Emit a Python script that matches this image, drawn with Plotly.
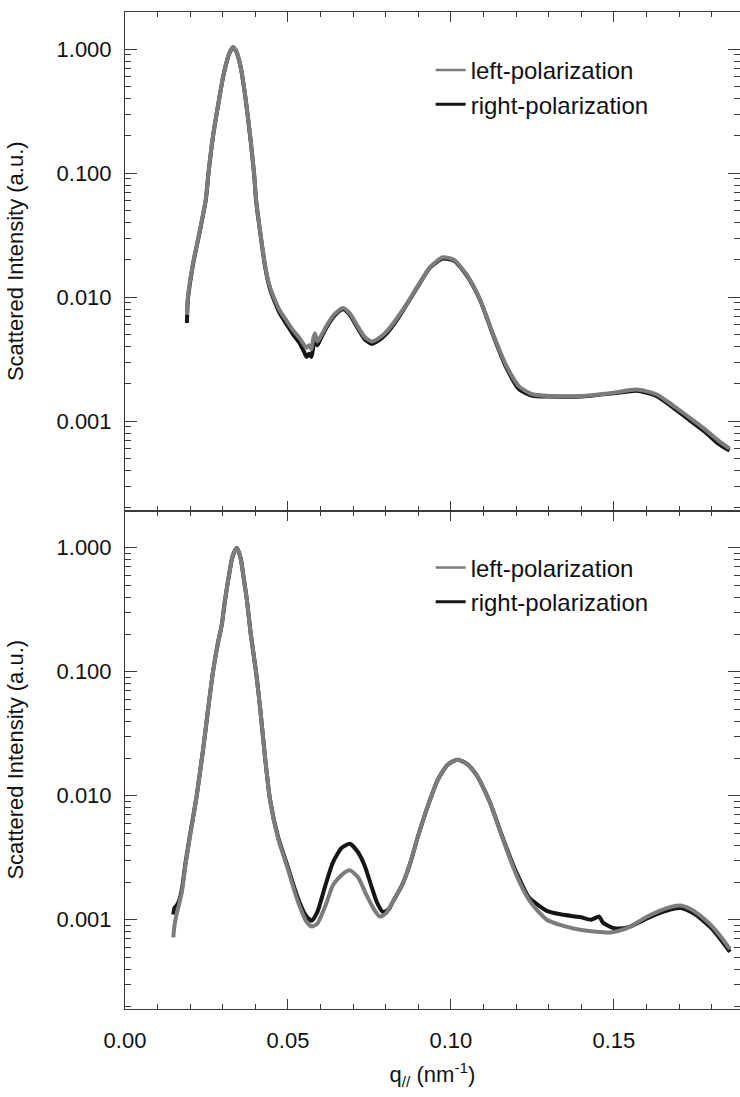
import plotly.graph_objects as go

# ---------------- data ----------------
# Top panel
q_top_left = [0.0190, 0.0193, 0.0209, 0.0230, 0.0248, 0.0256, 0.0270, 0.0289, 0.0300, 0.0310, 0.0320,
              0.0331, 0.0340, 0.0355, 0.0370, 0.0385, 0.0396, 0.0402, 0.0414, 0.0430, 0.0445, 0.0460,
              0.0475, 0.0495, 0.0516, 0.0535, 0.0550, 0.0557, 0.0565, 0.0572, 0.0578, 0.0583, 0.0590,
              0.0598, 0.0620, 0.0645, 0.0669, 0.0690, 0.0711, 0.0735, 0.0757, 0.0780, 0.0803, 0.0835,
              0.0864, 0.0900, 0.0936, 0.0975, 0.1010, 0.1050, 0.1090, 0.1130, 0.1170, 0.1210, 0.1250,
              0.1300, 0.1400, 0.1500, 0.1570, 0.1630, 0.1680, 0.1730, 0.1780, 0.1820, 0.1855]
I_top_left = [0.0072, 0.0100, 0.0190, 0.0350, 0.062, 0.100, 0.200, 0.400, 0.580, 0.760, 0.930,
              1.040, 0.980, 0.720, 0.400, 0.190, 0.100, 0.062, 0.0350, 0.0180, 0.0120, 0.0095,
              0.0078, 0.0065, 0.0054, 0.0047, 0.0041, 0.0039, 0.0041, 0.0038, 0.0047, 0.0051, 0.0044,
              0.0047, 0.0060, 0.0074, 0.0082, 0.0074, 0.0060, 0.0048, 0.0044, 0.0047, 0.0053, 0.0068,
              0.0088, 0.0125, 0.0175, 0.0210, 0.0200, 0.0150, 0.0095, 0.0050, 0.0028, 0.0019, 0.00165,
              0.00160, 0.00160, 0.00170, 0.00180, 0.00165, 0.00135, 0.00108, 0.00086, 0.00070, 0.00060]

q_top_right = [0.0190, 0.0193, 0.0209, 0.0230, 0.0248, 0.0256, 0.0270, 0.0289, 0.0300, 0.0310, 0.0320,
               0.0331, 0.0340, 0.0355, 0.0370, 0.0385, 0.0396, 0.0402, 0.0414, 0.0430, 0.0445, 0.0460,
               0.0475, 0.0495, 0.0516, 0.0535, 0.0550, 0.0557, 0.0565, 0.0572, 0.0578, 0.0583, 0.0590,
               0.0598, 0.0620, 0.0645, 0.0669, 0.0690, 0.0711, 0.0735, 0.0757, 0.0780, 0.0803, 0.0835,
               0.0864, 0.0900, 0.0936, 0.0975, 0.1010, 0.1050, 0.1090, 0.1130, 0.1170, 0.1210, 0.1250,
               0.1300, 0.1400, 0.1500, 0.1570, 0.1630, 0.1680, 0.1730, 0.1780, 0.1820, 0.1855]
I_top_right = [0.0062, 0.0096, 0.0186, 0.0345, 0.061, 0.099, 0.198, 0.398, 0.578, 0.755, 0.925,
               1.030, 0.975, 0.715, 0.398, 0.188, 0.099, 0.061, 0.0345, 0.0176, 0.0116, 0.0091,
               0.0074, 0.0061, 0.0050, 0.0043, 0.0036, 0.0033, 0.0035, 0.0033, 0.0040, 0.0046, 0.0041,
               0.0045, 0.0058, 0.0072, 0.0080, 0.0072, 0.0058, 0.0046, 0.0042, 0.0045, 0.0051, 0.0066,
               0.0087, 0.0124, 0.0173, 0.0205, 0.0197, 0.0148, 0.0094, 0.0049, 0.0027, 0.0018, 0.00160,
               0.00158, 0.00158, 0.00168, 0.00176, 0.00160, 0.00130, 0.00103, 0.00082, 0.00066, 0.00058]

# Bottom panel
q_bot_left = [0.0148, 0.0152, 0.0158, 0.0165, 0.0175, 0.0185, 0.0200, 0.0220, 0.0240, 0.0255, 0.0270,
              0.0285, 0.0297, 0.0307, 0.0320, 0.0330, 0.0343, 0.0355, 0.0365, 0.0374, 0.0386, 0.0402,
              0.0415, 0.0430, 0.0445, 0.0470, 0.0497, 0.0520, 0.0537, 0.0555, 0.0573, 0.0590, 0.0615,
              0.0638, 0.0665, 0.0690, 0.0715, 0.0740, 0.0765, 0.0782, 0.0800, 0.0822, 0.0850, 0.0874,
              0.0900, 0.0936, 0.0960, 0.0990, 0.1020, 0.1050, 0.1080, 0.1100, 0.1120, 0.1155, 0.1190,
              0.1215, 0.1240, 0.1270, 0.1294, 0.1340, 0.1396, 0.1445, 0.1488, 0.1520, 0.1550, 0.1600,
              0.1640, 0.1680, 0.1705, 0.1735, 0.1755, 0.1780, 0.1800, 0.1830, 0.1856]
I_bot_left = [0.00072, 0.00090, 0.00110, 0.00130, 0.00170, 0.0027, 0.0048, 0.0100, 0.0240, 0.050, 0.100,
              0.170, 0.240, 0.380, 0.620, 0.850, 1.000, 0.820, 0.550, 0.380, 0.200, 0.100,
              0.050, 0.020, 0.0093, 0.0045, 0.0027, 0.0017, 0.00126, 0.00098, 0.00088, 0.00093, 0.0013,
              0.0019, 0.0023, 0.0025, 0.0022, 0.0016, 0.0012, 0.00106, 0.00112, 0.0014, 0.0019, 0.0028,
              0.0048, 0.0093, 0.0135, 0.0178, 0.0195, 0.0180, 0.0145, 0.0115, 0.0088, 0.0048, 0.0027,
              0.0019, 0.00144, 0.00115, 0.00100, 0.00090, 0.00083, 0.00080, 0.00079, 0.00082, 0.00088, 0.00105,
              0.00118, 0.00128, 0.00130, 0.00122, 0.00113, 0.00100, 0.00089, 0.00072, 0.00058]

q_bot_right = [0.0148, 0.0152, 0.0158, 0.0165, 0.0175, 0.0185, 0.0200, 0.0220, 0.0240, 0.0255, 0.0270,
               0.0285, 0.0297, 0.0307, 0.0320, 0.0330, 0.0343, 0.0355, 0.0365, 0.0374, 0.0386, 0.0402,
               0.0415, 0.0430, 0.0445, 0.0470, 0.0497, 0.0520, 0.0537, 0.0555, 0.0573, 0.0590, 0.0615,
               0.0638, 0.0665, 0.0690, 0.0715, 0.0736, 0.0755, 0.0773, 0.0792, 0.0810, 0.0822, 0.0850,
               0.0874, 0.0900, 0.0936, 0.0960, 0.0990, 0.1020, 0.1050, 0.1080, 0.1100, 0.1120, 0.1155,
               0.1190, 0.1215, 0.1240, 0.1270, 0.1294, 0.1340, 0.1396, 0.1430, 0.1455, 0.1466, 0.1497,
               0.1520, 0.1550, 0.1600, 0.1640, 0.1680, 0.1705, 0.1735, 0.1755, 0.1780, 0.1800, 0.1830,
               0.1856]
I_bot_right = [0.00110, 0.00125, 0.00130, 0.00140, 0.00180, 0.0028, 0.0049, 0.0100, 0.0240, 0.050, 0.100,
               0.170, 0.240, 0.380, 0.620, 0.850, 1.000, 0.820, 0.550, 0.380, 0.200, 0.100,
               0.050, 0.020, 0.0093, 0.0046, 0.0028, 0.0018, 0.00135, 0.00108, 0.00098, 0.00115, 0.0019,
               0.0029, 0.0038, 0.0041, 0.0035, 0.0027, 0.0019, 0.00138, 0.00115, 0.00122, 0.0014, 0.0019,
               0.0028, 0.0048, 0.0093, 0.0135, 0.0178, 0.0195, 0.0180, 0.0145, 0.0115, 0.0088, 0.0049,
               0.0028, 0.0020, 0.0015, 0.0013, 0.00118, 0.00110, 0.00105, 0.00100, 0.00106, 0.00095, 0.00086,
               0.00085, 0.00088, 0.00102, 0.00113, 0.00122, 0.00124, 0.00116, 0.00108, 0.00095, 0.00085, 0.00068,
               0.00055]

series_names = ["left-polarization", "right-polarization"]
x_title = "q<sub>//</sub> (nm<sup>-1</sup>)"
y_title = "Scattered Intensity (a.u.)"

# ---------------- styling ----------------
GRAY = "#7c7c7c"
BLACK = "#151515"
AX = "#3a3a3a"
FONT = "Liberation Sans, Arial, Helvetica, sans-serif"
TXT = "#111"

fig = go.Figure()

line_kw = dict(shape="spline", smoothing=0.6)

# bottom panel (x, y) -- right first so gray is drawn on top
fig.add_trace(go.Scatter(x=q_bot_right, y=I_bot_right, mode="lines", xaxis="x", yaxis="y",
                         line=dict(color=BLACK, width=4, **line_kw), showlegend=False))
fig.add_trace(go.Scatter(x=q_bot_left, y=I_bot_left, mode="lines", xaxis="x", yaxis="y",
                         line=dict(color=GRAY, width=4, **line_kw), showlegend=False))
# top panel (x2, y2)
fig.add_trace(go.Scatter(x=q_top_right, y=I_top_right, mode="lines", xaxis="x2", yaxis="y2",
                         line=dict(color=BLACK, width=4, **line_kw), showlegend=False))
fig.add_trace(go.Scatter(x=q_top_left, y=I_top_left, mode="lines", xaxis="x2", yaxis="y2",
                         line=dict(color=GRAY, width=4, **line_kw), showlegend=False))

# legend entries
for leg, xa, ya in (("legend", "x2", "y2"), ("legend2", "x", "y")):
    fig.add_trace(go.Scatter(x=[None], y=[None], mode="lines", xaxis=xa, yaxis=ya,
                             name=series_names[0], legend=leg,
                             line=dict(color=GRAY, width=2.5)))
    fig.add_trace(go.Scatter(x=[None], y=[None], mode="lines", xaxis=xa, yaxis=ya,
                             name=series_names[1], legend=leg,
                             line=dict(color=BLACK, width=3)))

xcommon = dict(range=[0, 0.1887], tick0=0, dtick=0.05, tickformat=".2f",
               ticks="inside", ticklen=10, tickwidth=1, tickcolor=AX,
               showline=True, linecolor=AX, linewidth=1, mirror="ticks",
               showgrid=False, zeroline=False,
               minor=dict(dtick=0.01, ticks="inside", ticklen=5, tickwidth=1, tickcolor=AX,
                          showgrid=False))
ycommon = dict(type="log", range=[-3.72, 0.30], tickmode="linear", tick0=0, dtick=1,
               tickformat=".3f", ticks="inside", ticklen=12, tickwidth=1, tickcolor=AX,
               showline=True, linecolor=AX, linewidth=1, mirror="ticks",
               showgrid=False, zeroline=False,
               minor=dict(dtick="D1", ticks="inside", ticklen=6, tickwidth=1, tickcolor=AX,
                          showgrid=False),
               tickfont=dict(size=22, color=TXT, family=FONT),
               ticklabelstandoff=8,
               title=dict(text=y_title, font=dict(size=22, color=TXT, family=FONT), standoff=26))

fig.update_layout(
    width=740, height=1097,
    margin=dict(l=125, r=0, t=12, b=88),
    paper_bgcolor="white", plot_bgcolor="white",
    font=dict(family=FONT, color=TXT),
    xaxis=dict(anchor="y", **xcommon,
               tickfont=dict(size=22, color=TXT, family=FONT),
               ticklabelstandoff=12,
               title=dict(text=x_title, font=dict(size=22, color=TXT, family=FONT), standoff=14)),
    yaxis=dict(domain=[0, 0.5], anchor="x", **ycommon),
    xaxis2=dict(anchor="y2", matches="x", showticklabels=False, **xcommon),
    yaxis2=dict(domain=[0.5, 1], anchor="x2", **ycommon),
    legend=dict(x=0.497, y=0.964, xanchor="left", yanchor="top", bgcolor="rgba(0,0,0,0)",
                font=dict(size=24, color=TXT, family=FONT), tracegroupgap=0),
    legend2=dict(x=0.497, y=0.465, xanchor="left", yanchor="top", bgcolor="rgba(0,0,0,0)",
                 font=dict(size=24, color=TXT, family=FONT), tracegroupgap=0),
)

fig.write_html("out.html")
